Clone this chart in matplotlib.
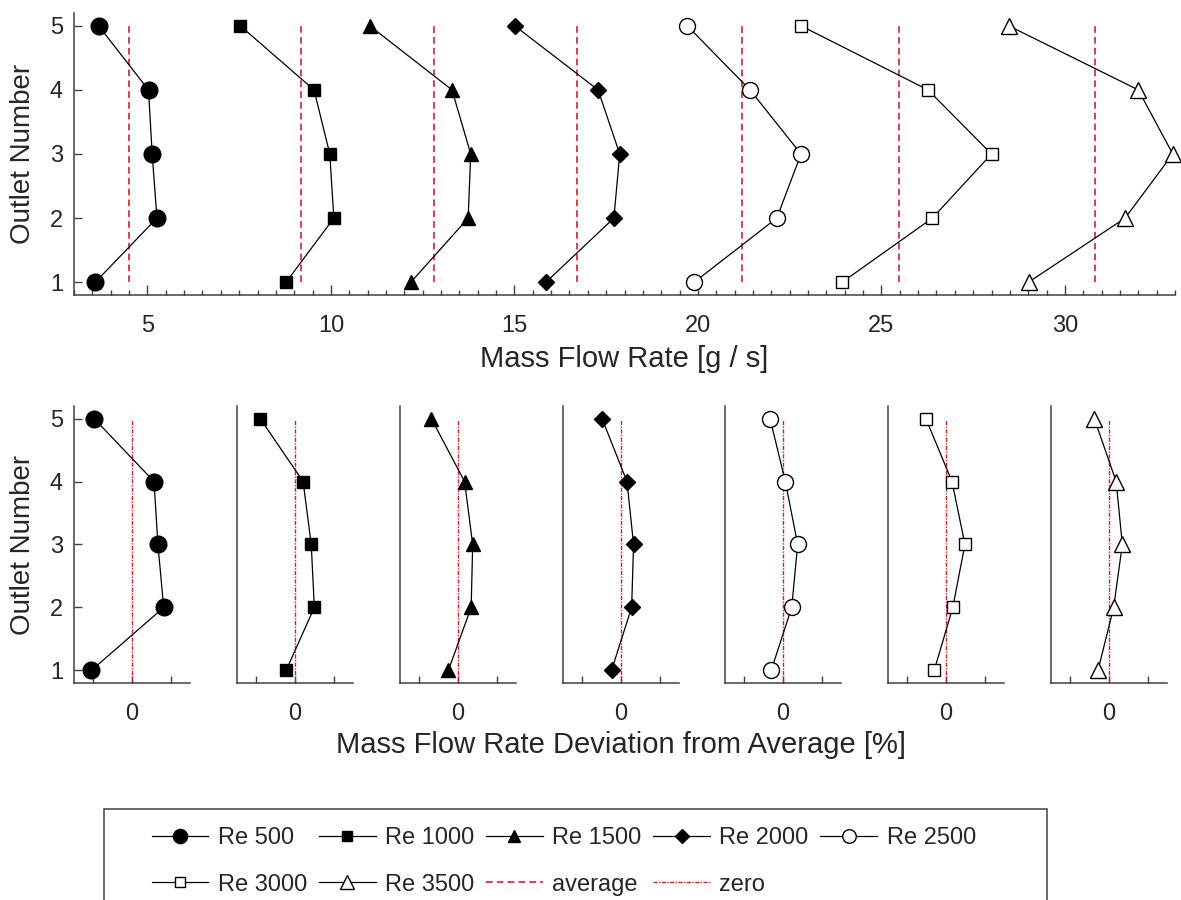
import matplotlib.pyplot as plt
from matplotlib.patches import Rectangle
from matplotlib.ticker import MultipleLocator

plt.rcParams['font.family'] = ['Liberation Sans', 'DejaVu Sans']
plt.rcParams['text.color'] = '#262626'
plt.rcParams['axes.labelcolor'] = '#262626'
plt.rcParams['xtick.color'] = '#404040'
plt.rcParams['ytick.color'] = '#404040'
plt.rcParams['xtick.labelcolor'] = '#262626'
plt.rcParams['ytick.labelcolor'] = '#262626'

# ---- data (outlet 1 .. 5) ----
outlets = [1, 2, 3, 4, 5]
labels = ['Re 500', 'Re 1000', 'Re 1500', 'Re 2000', 'Re 2500', 'Re 3000', 'Re 3500']

# mass flow rate [g/s]
re500 = [3.58, 5.26, 5.13, 5.03, 3.67]
re1000 = [8.78, 10.08, 9.97, 9.54, 7.53]
re1500 = [12.18, 13.74, 13.81, 13.30, 11.06]
re2000 = [15.86, 17.71, 17.87, 17.28, 15.01]
re2500 = [19.90, 22.15, 22.81, 21.42, 19.71]
re3000 = [23.93, 26.39, 28.00, 26.27, 22.81]
re3500 = [29.01, 31.64, 32.94, 32.00, 28.47]
averages = [4.51, 9.18, 12.81, 16.70, 21.20, 25.48, 30.83]

# deviation from average [%]
dev500 = [-21.0, 16.4, 13.4, 11.4, -19.6]
dev1000 = [-4.6, 10.0, 8.4, 4.2, -18.0]
dev1500 = [-5.0, 6.8, 7.6, 3.4, -13.8]
dev2000 = [-4.9, 5.5, 6.5, 3.1, -9.8]
dev2500 = [-6.1, 4.5, 7.6, 1.2, -6.7]
dev3000 = [-6.1, 3.5, 9.8, 3.1, -10.4]
dev3500 = [-5.7, 2.4, 6.9, 3.7, -7.6]

flows = [re500, re1000, re1500, re2000, re2500, re3000, re3500]
devs = [dev500, dev1000, dev1500, dev2000, dev2500, dev3000, dev3500]

# marker, face colour, size
styles = [('o', 'k', 12), ('s', 'k', 8), ('^', 'k', 10.5), ('D', 'k', 8.5),
          ('o', 'w', 11.5), ('s', 'w', 8.5), ('^', 'w', 12)]

red = '#d0202e'
spine_c = '#404040'

W, H = 1181, 900
fig = plt.figure(figsize=(W / 100, H / 100), dpi=100)


def box(left, top, right, bottom):
    return [left / W, 1 - bottom / H, (right - left) / W, (bottom - top) / H]


def clean(ax):
    ax.spines['top'].set_visible(False)
    ax.spines['right'].set_visible(False)
    for s in ['left', 'bottom']:
        ax.spines[s].set_color(spine_c)
        ax.spines[s].set_linewidth(1.1)


#-------------- top: mass flow rate --------------
ax = fig.add_axes(box(74, 13, 1175, 295))
clean(ax)
handles = []
for vals, avg, (m, fc, ms), lab in zip(flows, averages, styles, labels):
    h, = ax.plot(vals, outlets, color='k', lw=0.9, marker=m, ms=ms,
                 mfc=fc, mec='k', mew=1.0, clip_on=False, label=lab, zorder=3)
    handles.append(h)
    avg_line, = ax.plot([avg, avg], [1, 5], color=red, lw=1.2,
                        ls=(0, (4, 2.5)), label='average', zorder=2)

ax.set_xlim(3, 33)
ax.set_ylim(0.8, 5.2)
ax.xaxis.set_major_locator(MultipleLocator(5))
ax.xaxis.set_minor_locator(MultipleLocator(0.5))
ax.set_yticks(outlets)
ax.tick_params(axis='x', which='major', direction='in', length=7, width=1.0,
               labelsize=17, pad=14.5)
ax.tick_params(axis='x', which='minor', direction='in', length=3.5, width=1.0)
ax.tick_params(axis='y', direction='in', length=6, width=1.0, labelsize=17, pad=8)
ax.set_xlabel('Mass Flow Rate [g / s]', fontsize=21, labelpad=6)
ax.set_ylabel('Outlet Number', fontsize=20, labelpad=10)

#-------------- bottom: deviation panels --------------
lefts = [74, 237, 400, 563, 725, 888, 1051]
for i, (left, vals, (m, fc, ms)) in enumerate(zip(lefts, devs, styles)):
    bx = fig.add_axes(box(left, 406, left + 116, 683))
    clean(bx)
    bx.plot(vals, outlets, color='k', lw=0.9, marker=m, ms=ms,
            mfc=fc, mec='k', mew=1.0, clip_on=False, zorder=3)
    zero_line, = bx.plot([0, 0], [0.8, 5], color=red, lw=1.0,
                         ls=(0, (3, 1, 1, 1)), label='zero', zorder=2)
    bx.set_xlim(-30, 30)
    bx.set_ylim(0.8, 5.2)
    bx.set_xticks([-20, 0, 20])
    bx.set_xticklabels(['', '0', ''])
    bx.tick_params(axis='x', direction='in', length=5, width=1.0,
                   labelsize=17, pad=14.5)
    if i == 0:
        bx.set_yticks(outlets)
        bx.tick_params(axis='y', direction='in', length=6, width=1.0,
                       labelsize=17, pad=8)
        bx.set_ylabel('Outlet Number', fontsize=20, labelpad=10)
    else:
        bx.set_yticks([])
    if i == 3:
        bx.set_xlabel('Mass Flow Rate Deviation from Average [%]',
                      fontsize=21, labelpad=4.5)

#-------------- legend --------------
fig.patches.append(Rectangle((104 / W, -0.05), (1047 - 104) / W, 1 - 809 / H + 0.05,
                             transform=fig.transFigure, fill=False,
                             edgecolor=spine_c, lw=1.1))
# legend fills column by column, so interleave to get the two rows
leg_h = handles + [avg_line, zero_line]
leg_l = labels + ['average', 'zero']
order = [0, 5, 1, 6, 2, 7, 3, 8, 4]
fig.legend([leg_h[k] for k in order], [leg_l[k] for k in order],
           ncol=5, loc='upper left', bbox_to_anchor=(140 / W, 1 - 815 / H),
           frameon=False, fontsize=17, borderpad=0, handlelength=2.4,
           handletextpad=0.4, columnspacing=0.5, labelspacing=1.05,
           markerscale=0.85)

fig.savefig('out.png', dpi=100)
